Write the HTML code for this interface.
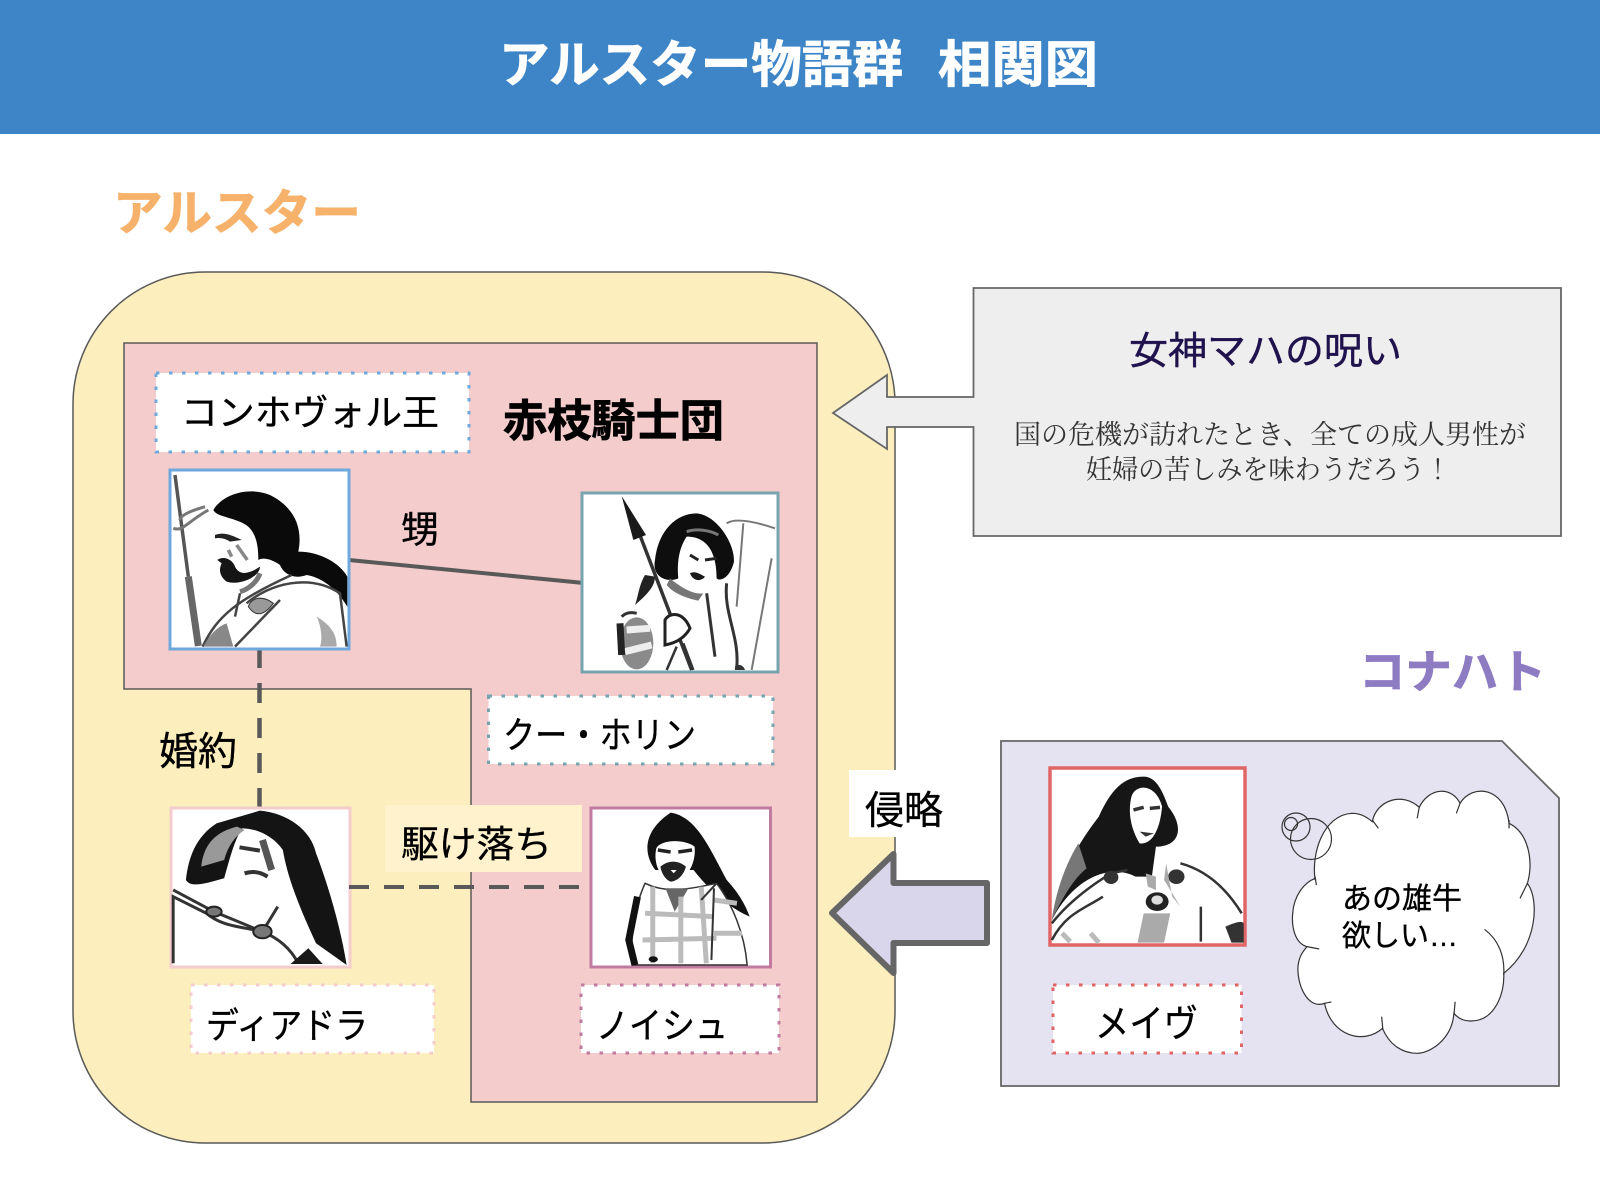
<!DOCTYPE html>
<html lang="ja"><head><meta charset="utf-8"><title>アルスター物語群 相関図</title>
<style>
html,body{margin:0;padding:0;background:#fff;width:1600px;height:1200px;overflow:hidden}
svg{display:block}
text{font-family:"Liberation Sans","Noto Sans CJK JP",sans-serif;fill:#000;stroke:#000;stroke-width:.35}
.b{font-weight:700;stroke-width:.8}
.s{font-family:"Liberation Serif","Noto Serif CJK JP","Noto Serif CJK SC",serif;fill:#333;stroke:none}
.ph path,.ph line,.ph circle,.ph ellipse{vector-effect:non-scaling-stroke}
</style></head><body>
<svg width="1600" height="1200" viewBox="0 0 1600 1200" xmlns="http://www.w3.org/2000/svg">
<rect width="1600" height="134" fill="#3d85c6"/>
<text class="b" x="499" y="82" font-size="50" style="fill:#fff;stroke:#fff" textLength="404" lengthAdjust="spacingAndGlyphs">アルスター物語群</text>
<text class="b" x="938" y="82" font-size="50" style="fill:#fff;stroke:#fff" textLength="160" lengthAdjust="spacingAndGlyphs">相関図</text>
<text class="b" x="113" y="230" font-size="49" style="fill:#f6b26b;stroke:#f6b26b" textLength="248" lengthAdjust="spacingAndGlyphs">アルスター</text>

<rect x="73" y="272" width="822" height="871" rx="132" ry="132" fill="#fdeebe" stroke="#595959" stroke-width="1.5"/>
<path d="M124 343H817V1102H471V689H124Z" fill="#f4cccc" stroke="#595959" stroke-width="1.5"/>

<rect x="156" y="373" width="313" height="79" fill="#fff" stroke="#6fa8dc" stroke-width="3" stroke-dasharray="3.5 9.5"/>
<text x="181" y="425" font-size="36" textLength="258" lengthAdjust="spacingAndGlyphs">コンホヴォル王</text>
<text class="b" x="503" y="436" font-size="44" textLength="221" lengthAdjust="spacingAndGlyphs">赤枝騎士団</text>

<line x1="349" y1="560" x2="584" y2="583" stroke="#595959" stroke-width="4"/>
<text x="401" y="543" font-size="38">甥</text>
<line x1="259.5" y1="648" x2="259.5" y2="808" stroke="#595959" stroke-width="4.5" stroke-dasharray="20 15"/>
<text x="159" y="765" font-size="39">婚約</text>

<!-- portrait 1 -->
<rect x="170" y="470" width="179" height="179" fill="#fff" stroke="#6fa8dc" stroke-width="3"/>
<g class="ph" transform="translate(160,460) scale(.3333)" fill="none">
<path d="M45 45L85 350" stroke="#555" stroke-width="3.500"/>
<path d="M85 350L115 558" stroke="#666" stroke-width="7"/>
<path d="M40 205C70 215 75 190 145 150M60 180C60 165 100 150 135 140" stroke="#777" stroke-width="3"/>
<path d="M160 150C190 100 270 80 330 105C400 140 430 200 415 275C480 275 540 310 562 350V440C520 370 470 350 440 345C400 360 370 340 360 315C340 300 310 290 295 300C295 260 290 210 250 190C210 170 170 170 160 150Z" fill="#0a0a0a"/>
<path d="M172 300C190 285 220 300 225 320C240 350 270 340 300 320C300 350 240 378 200 365C180 350 175 330 185 310Z" fill="#151515"/>
<path d="M165 225C190 215 215 225 245 240L210 245C195 235 180 232 165 235Z" fill="#222"/>
<path d="M230 255L262 300M205 270L215 290" stroke="#888" stroke-width="3.500"/>
<path d="M300 340C290 370 260 390 240 395" stroke="#777" stroke-width="5"/>
<path d="M128 560C170 470 230 420 395 345M260 430C330 370 450 340 540 400L560 560M240 400L225 470M225 560L360 420" stroke="#444" stroke-width="2.500"/>
<path d="M265 440C285 470 310 470 340 430C300 400 270 420 265 440Z" fill="#999" stroke="#333"/>
<path d="M470 470C520 500 530 530 530 560L480 560C490 530 480 490 470 470Z" fill="#aaa"/>
<path d="M130 560C145 530 170 500 200 490L220 560Z" fill="#888"/>
</g>

<!-- portrait 2 -->
<rect x="582" y="493" width="196" height="179" fill="#fff" stroke="#76a5af" stroke-width="3"/>
<g class="ph" transform="translate(570,480) scale(.3333)" fill="none">
<path d="M255 240C265 150 320 100 380 100C440 105 495 190 492 245C480 295 450 305 440 295C440 230 420 170 350 170C330 200 320 240 325 295C290 310 245 290 255 240Z" fill="#0e0e0e"/>
<path d="M350 155C380 145 420 150 445 165" stroke="#777" stroke-width="3"/>
<path d="M225 285C205 320 205 350 195 375C230 345 255 320 255 290Z" fill="#222"/>
<path d="M200 140L365 570" stroke="#333" stroke-width="3.500"/>
<path d="M155 48L228 165L190 180Z" fill="#1a1a1a"/>
<path d="M470 130C500 110 570 130 615 145M520 130L500 380M605 235L545 570" stroke="#777" stroke-width="2"/>
<path d="M470 310C460 400 510 470 500 565M410 340L435 530M200 400C180 395 165 400 155 410" stroke="#333" stroke-width="3"/>
<path d="M300 295C330 320 370 345 400 340L385 362C350 355 310 340 290 315Z" fill="#777"/>
<path d="M360 280C375 270 395 285 405 290C395 305 370 305 360 280Z" fill="#1a1a1a"/>
<path d="M360 225L385 240M405 240L440 235" stroke="#222" stroke-width="3"/>
<ellipse cx="200" cy="490" rx="50" ry="78" fill="#8a8a8a"/>
<path d="M165 515L245 495M170 450L240 445" stroke="#eee" stroke-width="7"/>
<path d="M150 430L155 525" stroke="#222" stroke-width="7"/>
<path d="M285 420C300 395 340 395 360 445C340 480 310 490 285 495Z" fill="#fff" stroke="#222" stroke-width="3"/>
<path d="M320 500L290 570M340 490L370 570" stroke="#333" stroke-width="2.500"/>
<path d="M495 560C505 550 520 555 525 570H495Z" fill="#333"/>
</g>

<rect x="488.500" y="696" width="284.500" height="68" fill="#fff" stroke="#76a5af" stroke-width="3" stroke-dasharray="3.500 9.500"/>
<text x="503" y="748" font-size="37" textLength="193" lengthAdjust="spacingAndGlyphs">クー・ホリン</text>

<!-- deirdre / naoise -->
<rect x="171" y="808" width="179" height="159" fill="#fff" stroke="#f4cccc" stroke-width="3"/>
<g class="ph" transform="translate(140,640) scale(.5102,.3333)" fill="none">
<path d="M235 512C290 520 335 570 345 640C365 720 392 850 405 975L345 910C315 810 290 720 280 630C262 590 230 565 200 565C185 600 175 660 165 715C130 730 100 745 90 720C95 650 110 590 150 550Z" fill="#141414"/>
<path d="M190 560C150 575 125 610 120 680L165 660C172 620 185 590 205 570Z" fill="#999"/>
<path d="M195 622L235 632" stroke="#333" stroke-width="4"/>
<path d="M205 700C225 690 240 700 250 710" stroke="#333" stroke-width="4"/>
<path d="M240 600L258 690" stroke="#555" stroke-width="7"/>
<path d="M65 750L145 815L240 875L270 800M65 970V770L130 820C160 860 200 860 240 875C280 900 300 940 310 970" stroke="#333" stroke-width="3"/>
<circle cx="145" cy="815" r="15" fill="#777" stroke="#222" stroke-width="2"/>
<ellipse cx="240" cy="875" rx="18" ry="20" fill="#777" stroke="#222" stroke-width="2"/>
<path d="M295 972L330 925L358 972Z" fill="#1a1a1a"/>
</g>
<rect x="591" y="808" width="179.500" height="159" fill="#fff" stroke="#c27ba0" stroke-width="3"/>
<g class="ph" transform="translate(140,640) scale(.5102,.3333)" fill="none">
<path d="M1040 518C1090 530 1115 620 1150 720C1180 770 1190 810 1195 830C1150 800 1110 740 1085 690L1010 690C990 650 980 580 1040 518Z" fill="#111"/>
<path d="M1012 625C1020 600 1065 595 1087 620C1090 660 1078 715 1045 725C1020 720 1005 670 1012 625Z" fill="#fff"/>
<path d="M1015 630L1040 636M1055 636L1082 630" stroke="#222" stroke-width="3.500"/>
<path d="M1020 680C1035 660 1055 660 1070 680C1065 710 1050 725 1040 725C1030 720 1022 700 1020 680Z" fill="#222"/>
<path d="M1040 690H1052L1046 700Z" fill="#fff"/>
<path d="M990 730C1030 760 1070 750 1130 730C1160 790 1185 880 1190 975H965C960 860 975 780 990 730Z" fill="#fff" stroke="#333" stroke-width="1.500"/>
<path d="M1030 745H1075L1048 815Z" fill="#666"/>
<path d="M975 770L958 900L970 975" stroke="#111" stroke-width="7"/>
<path d="M1005 740V970M1060 770V970M1100 740L1110 970M990 820L1125 830M985 900L1130 895M1125 880H1180M1125 780L1170 790" stroke="#bbb" stroke-width="5"/>
<path d="M1125 745L1120 960M1130 730L1100 780" stroke="#333" stroke-width="2"/>
<circle cx="1006" cy="958" r="9" fill="#111"/>
</g>

<line x1="349" y1="887" x2="592" y2="887" stroke="#595959" stroke-width="4" stroke-dasharray="20 15"/>
<rect x="385" y="805" width="197" height="67" fill="#fff2cc"/>
<text x="401" y="857" font-size="37" textLength="151" lengthAdjust="spacingAndGlyphs">駆け落ち</text>

<rect x="191" y="985" width="243" height="68" fill="#fff" stroke="#f4cccc" stroke-width="3" stroke-dasharray="3.500 9.500"/>
<text x="206" y="1038" font-size="36" textLength="162" lengthAdjust="spacingAndGlyphs">ディアドラ</text>
<rect x="581" y="985" width="198" height="68" fill="#fff" stroke="#c27ba0" stroke-width="3" stroke-dasharray="3.500 9.500"/>
<text x="596" y="1038" font-size="36" textLength="132" lengthAdjust="spacingAndGlyphs">ノイシュ</text>

<!-- curse box with arrow -->
<path d="M973.500 288H1561V536H973.500V427H887V449L833 413L887 375V397H973.500Z" fill="#eeeeee" stroke="#666" stroke-width="1.800" stroke-linejoin="miter"/>
<text x="1129" y="364" font-size="38" style="fill:#20124d;stroke:#20124d" textLength="273" lengthAdjust="spacingAndGlyphs">女神マハの呪い</text>
<text class="s" x="1014" y="444" font-size="27" textLength="512" lengthAdjust="spacingAndGlyphs">国の危機が訪れたとき、全ての成人男性が</text>
<text class="s" x="1086" y="479" font-size="27" textLength="365" lengthAdjust="spacingAndGlyphs">妊婦の苦しみを味わうだろう！</text>

<text class="b" x="1359" y="688" font-size="46" style="fill:#8e7cc3;stroke:#8e7cc3" textLength="187" lengthAdjust="spacingAndGlyphs">コナハト</text>

<rect x="849" y="770" width="111" height="67" fill="#fff"/>
<text x="865" y="824" font-size="39">侵略</text>
<path d="M987 883H893.500V854L832 913L893.500 973V943H987Z" fill="#d9d5ea" stroke="#666" stroke-width="6" stroke-linejoin="round"/>

<!-- Connacht -->
<path d="M1001 741H1502L1559 798V1086H1001Z" fill="#e5e2f2" stroke="#666" stroke-width="1.800"/>
<rect x="1050" y="768" width="195" height="177" fill="#fff" stroke="#e06666" stroke-width="3.500"/>
<g class="ph" transform="translate(960,720) scale(.4082,.3333)" fill="none">
<path d="M450 170C400 170 370 210 340 290C290 370 240 470 225 600C280 470 370 430 430 470L470 470L480 380C540 380 550 320 510 260C495 210 480 170 450 170Z" fill="#161616"/>
<path d="M290 370C260 430 235 510 225 600C260 510 285 470 310 445Z" fill="#777"/>
<path d="M420 230C430 190 480 190 495 260C490 330 470 375 440 370C420 330 410 280 420 230Z" fill="#fff"/>
<path d="M425 270L450 262M465 265L490 262" stroke="#333" stroke-width="3.500"/>
<path d="M440 335L475 340L455 350Z" fill="#333"/>
<path d="M225 610C270 540 330 490 370 460L410 450M540 430C600 450 650 500 690 580M225 660C260 580 300 570 350 530M590 560V665" stroke="#333" stroke-width="2.500"/>
<ellipse cx="370" cy="472" rx="18" ry="20" fill="#333"/>
<ellipse cx="530" cy="470" rx="20" ry="22" fill="#333"/>
<path d="M455 460L480 470V510L460 500ZM505 430L520 530L540 560L500 480Z" fill="#aaa"/>
<circle cx="483" cy="545" r="28" fill="#222"/>
<circle cx="483" cy="540" r="14" fill="#ddd"/>
<path d="M435 668L450 580H515L500 668Z" fill="#aaa"/>
<path d="M650 620C670 610 690 600 695 610V668H665Z" fill="#333"/>
<path d="M320 640L340 668M250 640L270 665" stroke="#bbb" stroke-width="5"/>
</g>
<rect x="1053" y="985" width="188.500" height="68" fill="#fff" stroke="#e06666" stroke-width="3" stroke-dasharray="3.500 9.500"/>
<text x="1095" y="1037" font-size="38" textLength="103" lengthAdjust="spacingAndGlyphs">メイヴ</text>

<g class="ph" transform="translate(960,720) scale(.4082,.3333)" fill="#fff" stroke="#333" stroke-width="1.200">
<path d="M870 480C860 400 890 285 960 280C985 280 1000 295 1010 305C1020 240 1085 215 1125 262C1150 200 1205 200 1225 250C1255 190 1335 200 1345 310C1395 340 1405 430 1390 490C1420 540 1415 680 1332 760C1335 820 1310 905 1250 903C1235 903 1220 895 1210 880C1205 960 1150 1000 1120 1000C1080 1000 1050 970 1035 925C990 975 910 950 893 850C850 870 825 790 828 740C830 710 840 695 850 680C820 670 812 620 815 580C818 530 840 490 870 475Z"/>
<path d="M870 470L873 495M1010 300L1025 325M1125 262L1120 295M1225 250L1216 280M1345 300L1345 325M1390 490L1372 535M1285 628C1320 660 1335 710 1332 765M1213 845L1210 885M1033 890L1036 930M893 850L910 846M850 680L880 687" fill="none"/>
</g>
<g fill="none" stroke="#333" stroke-width="1.200">
<circle cx="1311" cy="839" r="20.500"/>
<circle cx="1296" cy="827" r="14"/>
<circle cx="1291" cy="824" r="6.500"/>
</g>
<text x="1342" y="909" font-size="30" textLength="120" lengthAdjust="spacingAndGlyphs">あの雄牛</text>
<text x="1342" y="946" font-size="30" textLength="116" lengthAdjust="spacingAndGlyphs">欲しい…</text>
</svg>
</body></html>
